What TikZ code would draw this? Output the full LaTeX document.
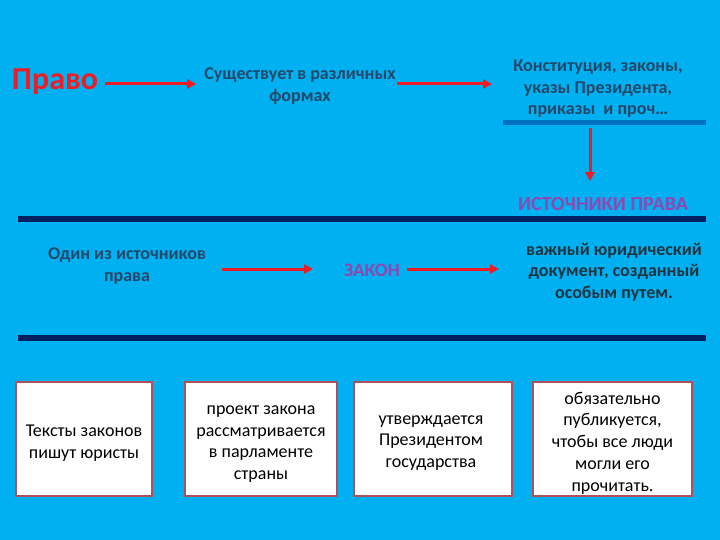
\documentclass[tikz,border=0pt]{standalone}
\usepackage{fontspec}
\setmainfont{Carlito}
\usetikzlibrary{arrows.meta,calc}
\definecolor{bg}{HTML}{00B0F0}
\definecolor{arrred}{HTML}{EE1C25}
\definecolor{navy}{HTML}{002060}
\definecolor{midblue}{HTML}{0070C0}
\definecolor{slate}{HTML}{24486A}
\definecolor{darkt}{HTML}{1E3440}
\definecolor{purp}{HTML}{9146B0}
\definecolor{boxred}{HTML}{B0505A}
\tikzset{
  arr/.style={draw=arrred, line width=3pt, -{Triangle[length=9pt,width=9pt]}},
  band/.style={draw=navy, line width=6.5pt},
  thinband/.style={draw=midblue, line width=5pt},
  uptext/.style={font=\fontsize{18}{21.5}\selectfont\bfseries, text=slate, align=center, inner sep=0pt},
  purptext/.style={font=\fontsize{20}{24}\selectfont\bfseries, text=purp, inner sep=0pt},
  stagebox/.style={draw=boxred, line width=1.3pt, fill=white, minimum height=114pt, inner sep=0pt},
  stagetext/.style={font=\fontsize{18}{21.8}\selectfont, text=black, align=center, inner sep=0pt},
}
\begin{document}
\begin{tikzpicture}[x=1pt,y=-1pt]
\fill[bg] (0,0) rectangle (720,540);
\useasboundingbox (0,0) rectangle (720,540);

% top row
\node[font=\fontsize{32}{36}\selectfont\bfseries, text=arrred, inner sep=0pt] (pravo) at (55,82) {Право};
\node[uptext] (forms) at (300,86) {Существует в различных\\формах};
\node[uptext] (const) at (598,89) {Конституция, законы,\\указы Президента,\\приказы~ и проч…};
\coordinate (bl1) at (503,123);
\coordinate (bl2) at (706,123);
\draw[thinband] (bl1) -- (bl2);
\node[purptext] (sources) at (603,204) {ИСТОЧНИКИ ПРАВА};
\coordinate (vtop) at (590,123);

\draw[arr] ($(pravo.east)+(7,2)$) -- ($(forms.west |- pravo.east)+(-8,2)$);
\draw[arr] ($(forms.east)+(1,-2)$) -- ($(const.west |- forms.east)+(-21,-2)$);
\draw[arr, shorten <=5pt, shorten >=16pt] (vtop) -- (vtop |- sources.north);

% first band
\coordinate (b1l) at (18,219);
\coordinate (b1r) at (706,219);
\draw[band] (b1l) -- (b1r);

% middle row
\node[uptext] (odin) at (127,266) {Один из источников\\права};
\node[font=\fontsize{19}{23}\selectfont\bfseries, text=purp, inner sep=0pt] (zakon) at (372,270) {ЗАКОН};
\node[uptext, text=darkt] (vazh) at (614,272) {важный юридический\\документ, созданный\\особым путем.};
\draw[arr] ($(odin.east)+(16,3)$) -- ($(zakon.west)+(-31,-1)$);
\draw[arr] ($(zakon.east)+(7,-1)$) -- ($(vazh.west |- zakon.east)+(-27,-1)$);

% second band
\coordinate (b2l) at (18,338);
\coordinate (b2r) at (706,338);
\draw[band] (b2l) -- (b2r);

% boxes
\node[stagebox, minimum width=136pt] (s1) at (84,439) {};
\node[stagebox, minimum width=152pt] (s2) at (261,439) {};
\node[stagebox, minimum width=158pt] (s3) at (433,439) {};
\node[stagebox, minimum width=159pt] (s4) at (612.5,439) {};
\node[stagetext] (t1) at ($(s1.center)+(0,4)$) {Тексты законов\\пишут юристы};
\node[stagetext] (t2) at ($(s2.center)+(0,5)$) {проект закона\\рассматривается\\в парламенте\\страны};
\node[stagetext] (t3) at ($(s3.center)+(-2,4)$) {утверждается\\Президентом\\государства};
\node[stagetext] (t4) at ($(s4.center)+(0,4)$) {обязательно\\публикуется,\\чтобы все люди\\могли его\\прочитать.};
\end{tikzpicture}
\end{document}
